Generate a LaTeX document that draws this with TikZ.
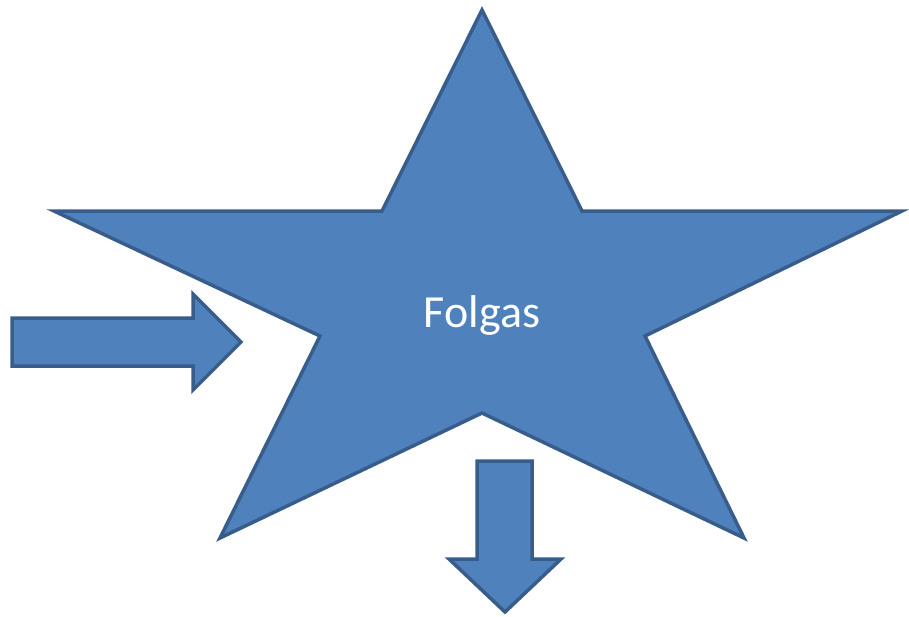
\documentclass[tikz,border=0pt]{standalone}
\usepackage{fontspec}
\setmainfont{Carlito}
\usepackage{tikz}
\definecolor{shapeFill}{HTML}{4F81BD}
\definecolor{shapeLine}{HTML}{385D8A}
\begin{document}
\begin{tikzpicture}[x=1pt, y=-1pt,
        blk/.style={draw=shapeLine, fill=shapeFill, line width=3.5pt, line join=miter},
        lbl/.style={text=white, font=\fontsize{46}{46}\selectfont, inner sep=0pt},
    ]
    \useasboundingbox (0,0) rectangle (909,616);
    % star
    \draw[blk] (482,10) -- (582,211) -- (902,211) -- (645,336) -- (744,538)
        -- (482,413) -- (220,538) -- (320,336) -- (54,211) -- (382,211) -- cycle;
    \node[lbl, anchor=base] (folgas) at (482,327) {Folgas};
    % arrow in
    \draw[blk] (12,318) -- (193,318) -- (193,294) -- (241,342) -- (193,390)
        -- (193,366) -- (12,366) -- cycle;
    % arrow out
    \draw[blk] (477,461) -- (532,461) -- (532,559) -- (561,559) -- (505,612)
        -- (449,559) -- (477,559) -- cycle;
\end{tikzpicture}
\end{document}
